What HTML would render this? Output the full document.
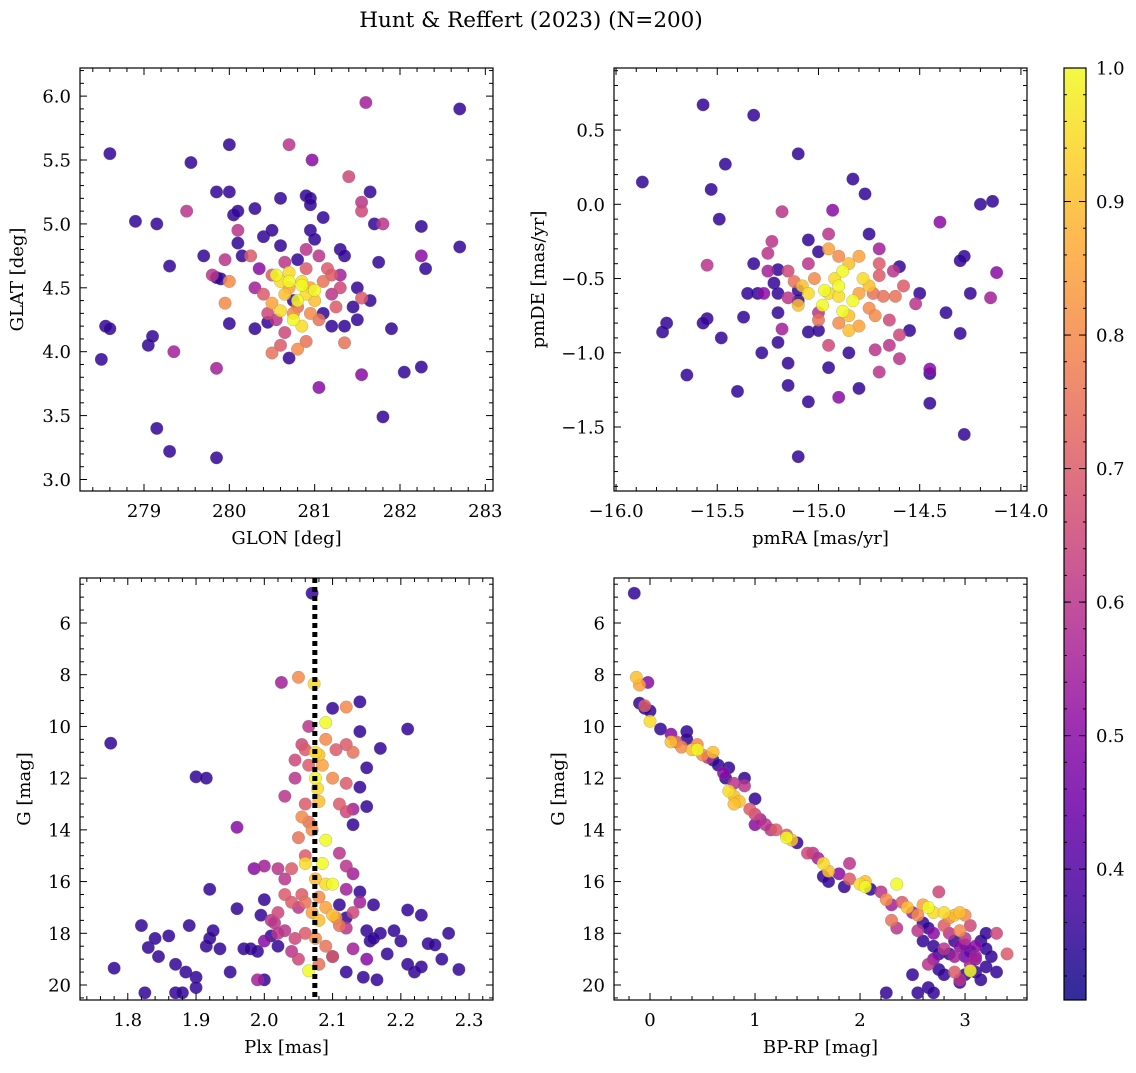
<!DOCTYPE html>
<html><head><meta charset="utf-8">
<style>
html,body{margin:0;padding:0;background:#fff;}
svg text{font-family:"DejaVu Serif","Liberation Serif",serif;fill:#000;}
</style></head>
<body>
<svg id="fig" width="1136" height="1068" xmlns="http://www.w3.org/2000/svg">
<text x="531" y="27" font-size="21.5" text-anchor="middle">Hunt &amp; Reffert (2023) (N=200)</text>
</svg>
<script>
// ---- data: [x, y, membership probability] (default prob 0.35 when omitted)
const glonGlat = [[278.6,5.55],[278.55,4.2],[278.6,4.18],[278.5,3.94],[278.9,5.02],[279.15,5.0],[279.05,4.05],[279.1,4.12],[279.35,4.0,0.55],[279.3,4.67],[279.15,3.4],[279.3,3.22],[279.85,3.17],[279.55,5.48],[279.5,5.1,0.6],[280.0,5.62],[279.85,5.25],[280.0,5.25],[280.05,5.07],[280.1,5.1],[279.7,4.75],[279.85,4.58],[279.9,4.57],[279.8,4.6,0.6],[279.95,4.72,0.6],[280.1,4.85],[280.1,4.95,0.6],[280.15,4.75],[280.0,4.22],[280.0,4.55,0.8],[279.95,4.38,0.8],[279.85,3.87,0.55],[280.3,5.12],[280.4,4.9],[280.3,4.18],[280.45,4.23],[280.6,5.2],[280.6,4.83],[280.5,4.95],[280.7,5.62,0.6],[280.8,4.72],[280.9,5.22],[280.95,5.2],[280.95,5.15],[280.97,5.5,0.5],[280.95,4.95],[281.0,4.88],[281.1,5.05],[281.3,4.8],[281.4,5.37,0.65],[281.35,4.75],[281.55,5.1,0.65],[281.55,5.17,0.6],[281.65,5.25],[281.7,5.0],[281.8,5.0,0.6],[281.75,4.7],[281.6,5.95,0.55],[282.7,5.9],[282.25,4.98],[282.25,4.75,0.5],[282.3,4.65],[282.7,4.82],[281.9,4.18],[281.65,4.4],[281.5,4.5],[281.5,4.25],[281.35,4.2],[281.35,4.07,0.75],[281.2,4.2],[281.05,3.72,0.5],[280.7,3.95],[280.5,3.99,0.75],[280.8,4.02,0.8],[280.9,4.08,0.75],[281.55,3.82,0.5],[282.05,3.84],[282.25,3.88],[281.8,3.49],[281.45,4.35],[281.55,4.42,0.7],[281.1,4.3],[280.75,4.4],[280.7,4.5,0.85],[280.6,4.55,0.95],[280.55,4.6,1],[280.6,4.32,0.95],[280.7,4.55,1],[280.7,4.62,0.95],[280.8,4.4,1],[280.9,4.45,0.95],[280.75,4.25,1],[280.85,4.2,0.95],[280.85,4.55,0.95],[280.95,4.5,0.85],[281.0,4.48,1],[280.85,4.52,1],[280.65,4.7,0.6],[281.1,4.55,0.75],[281.15,4.65,0.7],[281.05,4.75,0.6],[281.2,4.6,0.7],[280.5,4.6,0.7],[280.4,4.45,0.7],[280.45,4.3,0.65],[280.55,4.25,0.6],[280.65,4.15,0.65],[280.75,4.3,0.8],[280.8,4.35,0.75],[280.95,4.3,0.8],[281.05,4.25,0.75],[281.2,4.45,0.6],[281.3,4.6,0.55],[281.25,4.35,0.7],[280.6,4.05,0.7],[280.35,4.65,0.5],[280.25,4.75,0.7],[280.3,4.5,0.55],[280.9,4.8,0.6],[281.3,4.5,0.65],[280.9,4.65,0.7],[281.0,4.4,0.9],[280.65,4.45,0.9],[280.5,4.38,0.85]];
const pmraPmde = [[-15.87,0.15],[-15.57,0.67],[-15.53,0.1],[-15.46,0.27],[-15.32,0.6],[-15.1,0.34],[-15.49,-0.1],[-15.55,-0.41,0.6],[-15.75,-0.8],[-15.77,-0.86],[-15.65,-1.15],[-15.55,-0.77],[-15.57,-0.8],[-15.48,-0.9],[-15.37,-0.76],[-15.4,-1.26],[-15.28,-1.0],[-15.2,-0.93],[-15.15,-1.07],[-15.15,-1.22],[-15.1,-1.7],[-15.05,-1.33],[-14.9,-1.3,0.5],[-14.85,-1.0],[-14.8,-1.24],[-14.95,-1.1],[-14.7,-1.13,0.6],[-14.72,-0.98,0.6],[-14.6,-1.04,0.6],[-14.45,-1.11,0.5],[-14.45,-1.14],[-14.45,-1.34],[-14.28,-1.55],[-14.3,-0.87],[-14.25,-0.6],[-14.15,-0.63,0.55],[-14.12,-0.46,0.5],[-14.14,0.02],[-14.2,0.0],[-14.28,-0.35],[-14.3,-0.38],[-14.37,-0.73],[-14.4,-0.12,0.5],[-14.5,-0.6],[-14.52,-0.67,0.6],[-14.55,-0.85],[-14.6,-0.88,0.65],[-14.58,-0.55,0.7],[-14.6,-0.42],[-14.63,-0.45,0.6],[-14.7,-0.48,0.7],[-14.68,-0.62,0.75],[-14.75,-0.2],[-14.77,0.07],[-14.83,0.17],[-14.93,-0.04,0.5],[-15.0,-0.32],[-15.05,-0.24],[-15.2,-0.44],[-15.23,-0.25,0.6],[-15.18,-0.05,0.6],[-15.25,-0.33,0.6],[-15.32,-0.4],[-15.3,-0.6],[-15.35,-0.6],[-15.22,-0.53],[-15.2,-0.6],[-15.15,-0.63,0.6],[-15.1,-0.65],[-15.2,-0.73],[-15.0,-0.73,0.6],[-15.05,-0.86],[-15.0,-0.85],[-15.1,-0.58],[-14.95,-0.95,0.65],[-14.9,-0.8,0.8],[-14.85,-0.75,0.9],[-14.75,-0.7,0.8],[-14.8,-0.6,0.85],[-14.9,-0.55,1],[-14.95,-0.6,0.95],[-14.98,-0.68,1],[-14.92,-0.5,0.95],[-14.88,-0.45,1],[-14.85,-0.4,0.9],[-14.9,-0.35,0.8],[-14.95,-0.3,0.85],[-14.8,-0.35,0.85],[-14.78,-0.5,0.95],[-14.83,-0.65,1],[-14.88,-0.72,1],[-15.02,-0.5,0.8],[-15.05,-0.6,0.95],[-15.08,-0.55,0.9],[-15.1,-0.68,0.9],[-15.0,-0.78,0.75],[-14.97,-0.58,1],[-14.9,-0.62,0.95],[-14.75,-0.55,0.9],[-14.7,-0.4,0.7],[-14.72,-0.75,0.8],[-14.65,-0.78,0.65],[-14.62,-0.62,0.75],[-14.85,-0.85,0.9],[-15.15,-0.45,0.65],[-15.12,-0.52,0.75],[-14.8,-0.82,0.85],[-14.73,-0.6,0.75],[-15.05,-0.4,0.6],[-14.95,-0.2,0.6],[-14.7,-0.3,0.55],[-15.25,-0.45,0.55],[-15.27,-0.6,0.5],[-15.18,-0.84,0.55],[-14.65,-0.95,0.6]];
const plxG = [[1.775,10.65],[1.90,11.95],[1.915,12.0],[1.96,13.9,0.5],[2.07,4.85],[2.025,8.3,0.55],[2.17,10.85],[2.21,10.1],[2.14,9.05],[2.14,10.2],[2.15,11.6],[2.14,12.35],[2.15,13.1],[2.13,13.8],[2.1,9.3],[1.78,19.35],[1.82,17.7],[1.825,20.3],[1.83,18.55],[1.84,18.2],[1.845,18.9],[1.86,18.1],[1.87,19.2],[1.87,20.3],[1.88,20.3],[1.885,19.5],[1.89,17.7],[1.9,19.7],[1.9,20.1],[1.915,18.5],[1.92,18.2],[1.92,16.3],[1.925,17.9],[1.935,18.6],[1.95,19.5],[1.96,17.05],[1.97,18.6],[1.98,18.6],[1.99,18.7],[1.995,17.3],[2.0,19.8],[2.0,16.7],[2.01,18.1],[2.02,18.5],[2.19,17.9],[2.2,18.3],[2.21,17.1],[2.21,19.2],[2.22,19.5],[2.23,17.3],[2.23,19.3],[2.24,18.4],[2.25,18.45],[2.26,19.0],[2.27,18.0],[2.285,19.4],[2.18,18.8],[2.17,18.0],[2.165,19.8],[2.12,19.5],[2.1,18.9],[2.11,16.9],[2.12,17.4],[2.14,16.4],[2.15,17.9],[2.155,18.3],[2.16,16.9],[2.16,18.2],[2.145,19.7],[2.05,8.1,0.8],[2.073,8.35,0.95],[2.065,10.0,0.6],[2.055,10.7,0.65],[2.06,10.9,0.7],[2.075,11.0,0.95],[2.08,11.1,0.9],[2.09,9.85,1],[2.12,9.25,0.8],[2.12,10.7,0.7],[2.13,11.0,0.75],[2.12,12.2,0.7],[2.11,13.0,0.7],[2.12,13.3,0.65],[2.13,13.2,0.55],[2.075,12.0,1],[2.078,12.4,0.95],[2.08,12.9,0.9],[2.085,11.5,0.85],[2.09,14.4,1],[2.06,13.0,0.7],[2.055,13.5,0.8],[2.05,14.3,0.75],[2.07,14.0,0.8],[2.045,12.0,0.6],[2.03,12.7,0.6],[2.06,15.0,0.7],[2.085,15.3,1],[2.06,15.3,0.95],[2.075,15.9,0.9],[2.09,16.1,0.95],[2.1,16.1,1],[2.08,16.6,0.8],[2.055,16.5,0.7],[2.06,16.8,0.75],[2.09,17.0,0.85],[2.1,17.3,0.9],[2.105,17.4,0.8],[2.11,17.7,0.75],[2.08,17.5,0.9],[2.07,17.2,0.85],[2.05,17.0,0.6],[2.04,16.8,0.7],[2.03,16.5,0.7],[2.02,17.2,0.65],[2.015,17.6,0.6],[2.03,17.9,0.6],[2.045,18.2,0.65],[2.06,18.0,0.7],[2.075,18.2,0.8],[2.09,18.5,0.75],[2.1,18.9,0.7],[2.08,19.2,0.75],[2.065,19.45,1],[2.05,19.0,0.65],[2.04,18.7,0.6],[2.0,18.3,0.5],[2.01,17.5,0.6],[2.02,18.0,0.6],[1.99,19.8,0.55],[1.985,15.5,0.5],[2.0,15.4,0.55],[2.02,15.5,0.6],[2.03,15.9,0.6],[2.04,15.5,0.7],[2.13,17.2,0.65],[2.12,17.8,0.6],[2.13,18.6,0.55],[2.15,19.0,0.5],[2.14,16.8,0.55],[2.12,16.3,0.55],[2.13,15.7,0.55],[2.12,15.4,0.6],[2.11,14.9,0.6],[2.065,13.7,0.75],[2.1,12.0,0.8],[2.09,10.5,0.8],[2.105,10.9,0.7],[2.065,11.5,0.7],[2.045,11.3,0.65]];
const bprpG = [[-0.15,4.85],[-0.13,8.1,0.9],[-0.1,8.4,0.85],[-0.1,9.1],[-0.05,9.2,0.7],[-0.02,8.3,0.5],[-0.05,9.3],[0.0,9.4],[0.0,9.8,0.95],[0.1,10.1],[0.2,10.3,0.5],[0.2,10.6,0.9],[0.3,10.8,0.8],[0.35,10.2],[0.35,10.5],[0.4,10.9,0.9],[0.45,10.9,1],[0.5,11.1,0.8],[0.55,11.2,0.6],[0.6,11.3],[0.65,11.5],[0.7,11.8,0.5],[0.75,11.6],[0.72,12.0],[0.8,12.2,0.6],[0.75,12.5,0.95],[0.8,12.7,0.9],[0.85,12.9,0.9],[0.9,12.0],[0.95,13.2,0.7],[1.0,13.4,0.65],[1.05,13.6,0.55],[1.0,13.8,0.5],[1.1,13.8,0.6],[1.15,14.0,0.6],[1.2,14.0,0.7],[1.3,14.3,1],[1.35,14.4,0.9],[1.3,14.2,0.7],[1.4,14.5],[1.5,14.9,0.65],[1.55,14.9,0.6],[1.6,15.1,0.55],[1.65,15.3,0.95],[1.7,15.6,0.9],[1.65,15.8],[1.7,16.0],[1.8,15.7,0.5],[1.85,16.2],[1.9,15.3,0.6],[1.9,15.9,0.7],[2.0,16.1,0.95],[2.05,16.2,1],[2.05,16.0,0.9],[2.1,16.3],[2.2,16.4,0.6],[2.25,16.7,0.8],[2.3,16.9,0.55],[2.35,16.1,1],[2.4,16.8,0.7],[2.45,17.0,0.9],[2.5,17.2,0.55],[2.55,17.3,0.8],[2.6,16.9,0.85],[2.65,17.0,1],[2.7,17.2,0.95],[2.75,16.4,0.65],[2.8,17.2,0.95],[2.85,17.4,0.8],[2.9,17.3,0.9],[2.95,17.2,0.9],[3.0,17.3,0.8],[2.3,17.5,0.75],[2.35,17.8,0.6],[2.6,17.6],[2.65,17.8],[2.7,18.0,0.5],[2.6,18.3],[2.7,18.5],[2.75,18.8],[2.8,18.6,0.6],[2.85,18.8],[2.9,18.3],[2.95,18.5,0.5],[3.0,18.2,0.6],[3.05,18.7],[3.1,18.5,0.5],[3.15,18.3],[3.2,18.6],[3.25,18.9],[3.3,18.0,0.65],[3.4,18.8,0.7],[2.65,19.2,0.6],[2.7,19.0,0.5],[2.75,19.4],[2.8,19.6],[2.9,19.5,0.7],[2.95,19.8,0.6],[3.0,19.6],[3.05,19.2,0.55],[3.1,19.5],[3.15,19.8],[3.2,19.3],[3.3,19.5],[3.05,19.45,1],[2.9,18.9,0.55],[3.0,18.9,0.45],[3.1,19.0,0.5],[2.95,17.9,0.8],[2.85,18.0,0.6],[2.8,17.7,0.7],[3.05,17.7,0.65],[3.2,18.0],[2.5,19.6],[2.65,20.1],[2.7,20.3],[2.55,20.3],[2.25,20.3],[2.95,19.9],[1.0,12.8],[0.9,12.3,0.6],[0.8,13.0,0.9],[0.6,11.0,0.9],[0.45,10.7,0.8],[0.25,10.6,0.7],[3.0,18.45,0.5],[3.1,18.9,0.55],[2.55,17.9,0.6]];
const clusterPlx = 2.074;
const colorbarTicks = [0.4,0.5,0.6,0.7,0.8,0.9,1.0];
const pMin = 0.302, pMax = 1.0;

const NS = "http://www.w3.org/2000/svg";
const svg = document.getElementById('fig');
function el(tag, attrs, parent){ const e=document.createElementNS(NS,tag); for(const k in attrs) e.setAttribute(k,attrs[k]); (parent||svg).appendChild(e); return e; }

const plasma = ["#0d0887","#41049d","#6a00a8","#8f0da4","#b12a90","#cc4778","#e16462","#f2844b","#fca636","#fcce25","#f0f921"];
function hex(h){return [parseInt(h.slice(1,3),16),parseInt(h.slice(3,5),16),parseInt(h.slice(5,7),16)];}
function cmap(p){ let t=(p-pMin)/(pMax-pMin); t=Math.max(0,Math.min(1,t)); const f=t*10, i=Math.min(9,Math.floor(f)), r=f-i; const a=hex(plasma[i]), b=hex(plasma[i+1]); return `rgb(${a.map((v,k)=>Math.round(v+(b[k]-v)*r)).join(',')})`; }

function fmt(v,dec){ const s=v.toFixed(dec); return s.replace('-','\u2212'); }

const TICK_FS = 18, LABEL_FS = 18;

function panel(cfg){
  const {x0,x1,y0,y1,xmin,xmax,ymin,ymax,invY} = cfg;
  const g = el('g',{});
  
  
  const sx = v => x0 + (v-xmin)/(xmax-xmin)*(x1-x0);
  const sy = v => invY ? y0 + (v-ymin)/(ymax-ymin)*(y1-y0) : y1 - (v-ymin)/(ymax-ymin)*(y1-y0);
  const clip = 'clip-'+cfg.name;
  const cp = el('clipPath',{id:clip},g); el('rect',{x:x0,y:y0,width:x1-x0,height:y1-y0},cp);
  const pts = el('g',{'clip-path':`url(#${clip})`},g);
  
  
  const data = cfg.data.slice().sort((a,b)=>(a[2]||0.35)-(b[2]||0.35));
  data.forEach(d=>{
    const c = el('circle',{cx:sx(d[0]),cy:sy(d[1]),r:6.3,fill:cmap(d[2]||0.35),'fill-opacity':0.85,stroke:'#777','stroke-width':0.4,'stroke-opacity':0.6},pts);
    
    
  });
  if(cfg.vline!==undefined){
    const l = el('line',{x1:sx(cfg.vline),x2:sx(cfg.vline),y1:y0,y2:y1,stroke:'#000','stroke-width':5,'stroke-dasharray':'5,4'},pts);
    
    
  }
  el('rect',{x:x0,y:y0,width:x1-x0,height:y1-y0,fill:'none',stroke:'#000','stroke-width':1.2},g);
  const eps=1e-9;
  for(let v=Math.ceil(xmin/cfg.xminor-eps)*cfg.xminor; v<=xmax+eps; v+=cfg.xminor){
    const X=sx(v); const major=Math.abs(v/cfg.xmajor-Math.round(v/cfg.xmajor))<1e-6; const L=major?7:4;
    el('line',{x1:X,x2:X,y1:y1,y2:y1-L,stroke:'#000','stroke-width':1},g);
    el('line',{x1:X,x2:X,y1:y0,y2:y0+L,stroke:'#000','stroke-width':1},g);
    if(major){ const t=el('text',{x:X,y:y1+26,'font-size':TICK_FS,'text-anchor':'middle'},g); t.textContent=fmt(Math.round(v/cfg.xmajor)*cfg.xmajor,cfg.xdec);
        }
  }
  for(let v=Math.ceil(ymin/cfg.yminor-eps)*cfg.yminor; v<=ymax+eps; v+=cfg.yminor){
    const Y=sy(v); const major=Math.abs(v/cfg.ymajor-Math.round(v/cfg.ymajor))<1e-6; const L=major?7:4;
    el('line',{x1:x0,x2:x0+L,y1:Y,y2:Y,stroke:'#000','stroke-width':1},g);
    el('line',{x1:x1,x2:x1-L,y1:Y,y2:Y,stroke:'#000','stroke-width':1},g);
    if(major){ const t=el('text',{x:x0-9,y:Y+6.5,'font-size':TICK_FS,'text-anchor':'end'},g); t.textContent=fmt(Math.round(v/cfg.ymajor)*cfg.ymajor,cfg.ydec);
        }
  }
  const xl=el('text',{x:(x0+x1)/2,y:y1+53,'font-size':LABEL_FS,'text-anchor':'middle'},g); xl.textContent=cfg.xlabel;
   
  const yx=cfg.ylx, yc=(y0+y1)/2;
  const yl=el('text',{x:yx,y:yc,'font-size':LABEL_FS,'text-anchor':'middle',transform:`rotate(-90 ${yx} ${yc})`},g); yl.textContent=cfg.ylabel;
   
}

panel({name:'glon-glat-panel',x0:80,x1:493,y0:68,y1:491,xmin:278.25,xmax:283.09,ymin:2.91,ymax:6.22,xmajor:1,xminor:0.2,ymajor:0.5,yminor:0.1,xdec:0,ydec:1,xlabel:'GLON [deg]',ylabel:'GLAT [deg]',ylx:23,data:glonGlat});
panel({name:'pm-panel',x0:614,x1:1027,y0:68,y1:491,xmin:-16.01,xmax:-13.97,ymin:-1.931,ymax:0.918,xmajor:0.5,xminor:0.1,ymajor:0.5,yminor:0.1,xdec:1,ydec:1,xlabel:'pmRA [mas/yr]',ylabel:'pmDE [mas/yr]',ylx:544,data:pmraPmde});
panel({name:'plx-g-panel',x0:80,x1:493,y0:578,y1:1000,xmin:1.730,xmax:2.335,ymin:4.26,ymax:20.58,invY:true,xmajor:0.1,xminor:0.02,ymajor:2,yminor:0.5,xdec:1,ydec:0,xlabel:'Plx [mas]',ylabel:'G [mag]',ylx:30,data:plxG,vline:clusterPlx});
panel({name:'cmd-panel',x0:614,x1:1027,y0:578,y1:1000,xmin:-0.343,xmax:3.59,ymin:4.26,ymax:20.58,invY:true,xmajor:1,xminor:0.2,ymajor:2,yminor:0.5,xdec:0,ydec:0,xlabel:'BP-RP [mag]',ylabel:'G [mag]',ylx:564,data:bprpG});

(function(){
  const cx0=1064,cx1=1086,cy0=68,cy1=1000;
  const g=el('g',{});
  
  
  const grad=el('linearGradient',{id:'cbgrad',x1:0,y1:1,x2:0,y2:0},el('defs',{},g));
  plasma.forEach((c,i)=>el('stop',{offset:i/10,'stop-color':c},grad));
  el('rect',{x:cx0,y:cy0,width:cx1-cx0,height:cy1-cy0,fill:'url(#cbgrad)','fill-opacity':0.85,stroke:'#000','stroke-width':1.2},g);
  const sy=v=>cy1-(v-pMin)/(pMax-pMin)*(cy1-cy0);
  for(let v=0.32; v<=1.0001; v+=0.02){ const Y=sy(v); el('line',{x1:cx1,x2:cx1-3,y1:Y,y2:Y,stroke:'#000','stroke-width':1},g); el('line',{x1:cx0,x2:cx0+3,y1:Y,y2:Y,stroke:'#000','stroke-width':1},g); }
  colorbarTicks.forEach(v=>{ const Y=sy(v);
    el('line',{x1:cx1,x2:cx1-7,y1:Y,y2:Y,stroke:'#000','stroke-width':1},g);
    el('line',{x1:cx0,x2:cx0+7,y1:Y,y2:Y,stroke:'#000','stroke-width':1},g);
    const t=el('text',{x:cx1+10,y:Y+6.5,'font-size':TICK_FS},g); t.textContent=v.toFixed(1);
     
  });
})();
</script>
</body></html>
